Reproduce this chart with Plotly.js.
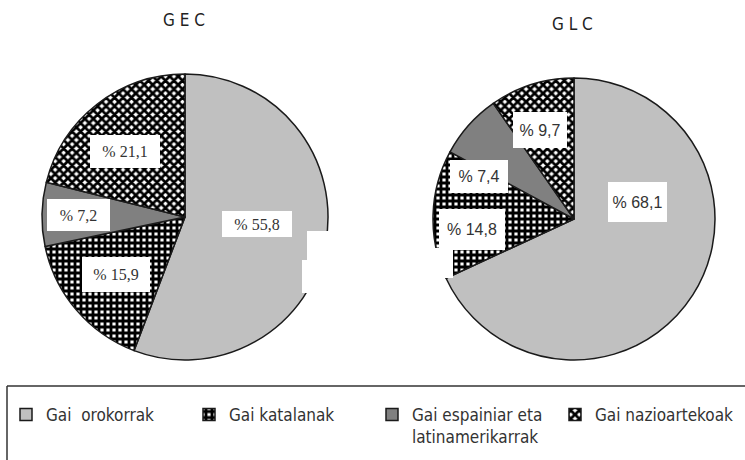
<!DOCTYPE html>
<html>
<head>
<meta charset="utf-8">
<script src="https://cdn.plot.ly/plotly-3.0.1.min.js"></script>
<style>html,body{margin:0;padding:0;background:#fff;}#chart{width:745px;height:460px;}</style>
</head>
<body>
<div id="chart"></div>
<script>
// ---- data ----
const categories = ["Gai  orokorrak", "Gai katalanak", "Gai espainiar eta<br>latinamerikarrak", "Gai nazioartekoak"];
const gecValues = [55.8, 15.9, 7.2, 21.1];
const glcValues = [68.1, 14.8, 7.4, 9.7];
const chartTitles = ["G E C", "G L C"];

// ---- layout helpers (pixel -> paper) ----
const W = 745, H = 460;
const px = x => x / W;
const py = y => 1 - y / H;

const fmt = v => "% " + v.toFixed(1).replace(".", ",");

const sliceColors = ["#c0c0c0", "#ffffff", "#808080", "#ffffff"];
const pattern = {
  shape: ["", "+", "", "x"],
  fgcolor: ["#000", "#000", "#000", "#000"],
  bgcolor: ["#c0c0c0", "#ffffff", "#808080", "#ffffff"],
  size: [6, 6, 6, 6],
  solidity: [0.5, 0.72, 0.5, 0.7],
  fillmode: "replace"
};

function pieTrace(values, dom, showlegend) {
  return {
    type: "pie",
    labels: categories,
    values: values,
    sort: false,
    direction: "clockwise",
    rotation: 0,
    textinfo: "none",
    hoverinfo: "label+percent",
    showlegend: showlegend,
    domain: dom,
    automargin: false,
    marker: {colors: sliceColors, line: {color: "#1a1a1a", width: 1.5}, pattern: pattern}
  };
}

const traces = [
  pieTrace(gecValues, {x: [px(42), px(328)], y: [py(360), py(74)]}, true),
  pieTrace(glcValues, {x: [px(433), px(715)], y: [py(360), py(78)]}, true)
];

// label boxes: [centerX, centerY, width, height] in px
const gecBoxes = [[257, 224, 70, 26], [116, 274, 68, 35], [78, 215, 63, 32], [125, 151, 70, 33]];
const glcBoxes = [[637, 202, 59, 40], [472, 229, 66, 41], [479, 176, 58, 33], [540, 130, 54, 36]];

const annotations = [];
function addLabels(values, boxes, family) {
  values.forEach((v, i) => {
    const b = boxes[i];
    annotations.push({
      xref: "paper", yref: "paper", x: px(b[0]), y: py(b[1]),
      xanchor: "center", yanchor: "middle", showarrow: false,
      text: fmt(v), bgcolor: "#ffffff", width: b[2], height: b[3],
      borderpad: 0, borderwidth: 0,
      font: {family: family, size: 16, color: "#333"}
    });
  });
}
addLabels(gecValues, gecBoxes, "Liberation Serif, Times New Roman, serif");
addLabels(glcValues, glcBoxes, "Liberation Sans, Arial, sans-serif");

annotations.push({xref: "paper", yref: "paper", x: px(184), y: py(19.5), xanchor: "center", yanchor: "middle",
  showarrow: false, text: chartTitles[0], font: {family: "DejaVu Sans Condensed, DejaVu Sans, sans-serif", size: 17, color: "#222"}});
annotations.push({xref: "paper", yref: "paper", x: px(572), y: py(24), xanchor: "center", yanchor: "middle",
  showarrow: false, text: chartTitles[1], font: {family: "DejaVu Sans Condensed, DejaVu Sans, sans-serif", size: 17, color: "#222"}});

const shapes = [
  // scan artefacts (white patches over the pie edges)
  {type: "rect", xref: "paper", yref: "paper", x0: px(307), x1: px(336), y0: py(260), y1: py(231), fillcolor: "#fff", line: {width: 0}, layer: "above"},
  {type: "rect", xref: "paper", yref: "paper", x0: px(302), x1: px(336), y0: py(293), y1: py(260), fillcolor: "#fff", line: {width: 0}, layer: "above"},
  {type: "rect", xref: "paper", yref: "paper", x0: px(426), x1: px(453), y0: py(278), y1: py(248), fillcolor: "#fff", line: {width: 0}, layer: "above"},
  // legend frame
  {type: "line", xref: "paper", yref: "paper", x0: px(7), x1: px(760), y0: py(386), y1: py(386), line: {color: "#333", width: 1.5}},
  {type: "line", xref: "paper", yref: "paper", x0: px(7), x1: px(7), y0: py(386), y1: py(470), line: {color: "#333", width: 1.5}}
];

const layout = {
  width: W, height: H,
  margin: {l: 0, r: 0, t: 0, b: 0, autoexpand: false},
  paper_bgcolor: "#fff",
  showlegend: true,
  legend: {
    orientation: "h", x: px(6), y: py(397), xanchor: "left", yanchor: "top",
    entrywidth: 138, entrywidthmode: "pixels", valign: "top",
    bgcolor: "rgba(0,0,0,0)", traceorder: "normal",
    font: {family: "DejaVu Sans Condensed, DejaVu Sans, sans-serif", size: 17, color: "#333"}
  },
  annotations: annotations,
  shapes: shapes
};

Plotly.newPlot("chart", traces, layout, {displayModeBar: false, staticPlot: true});
</script>
</body>
</html>
